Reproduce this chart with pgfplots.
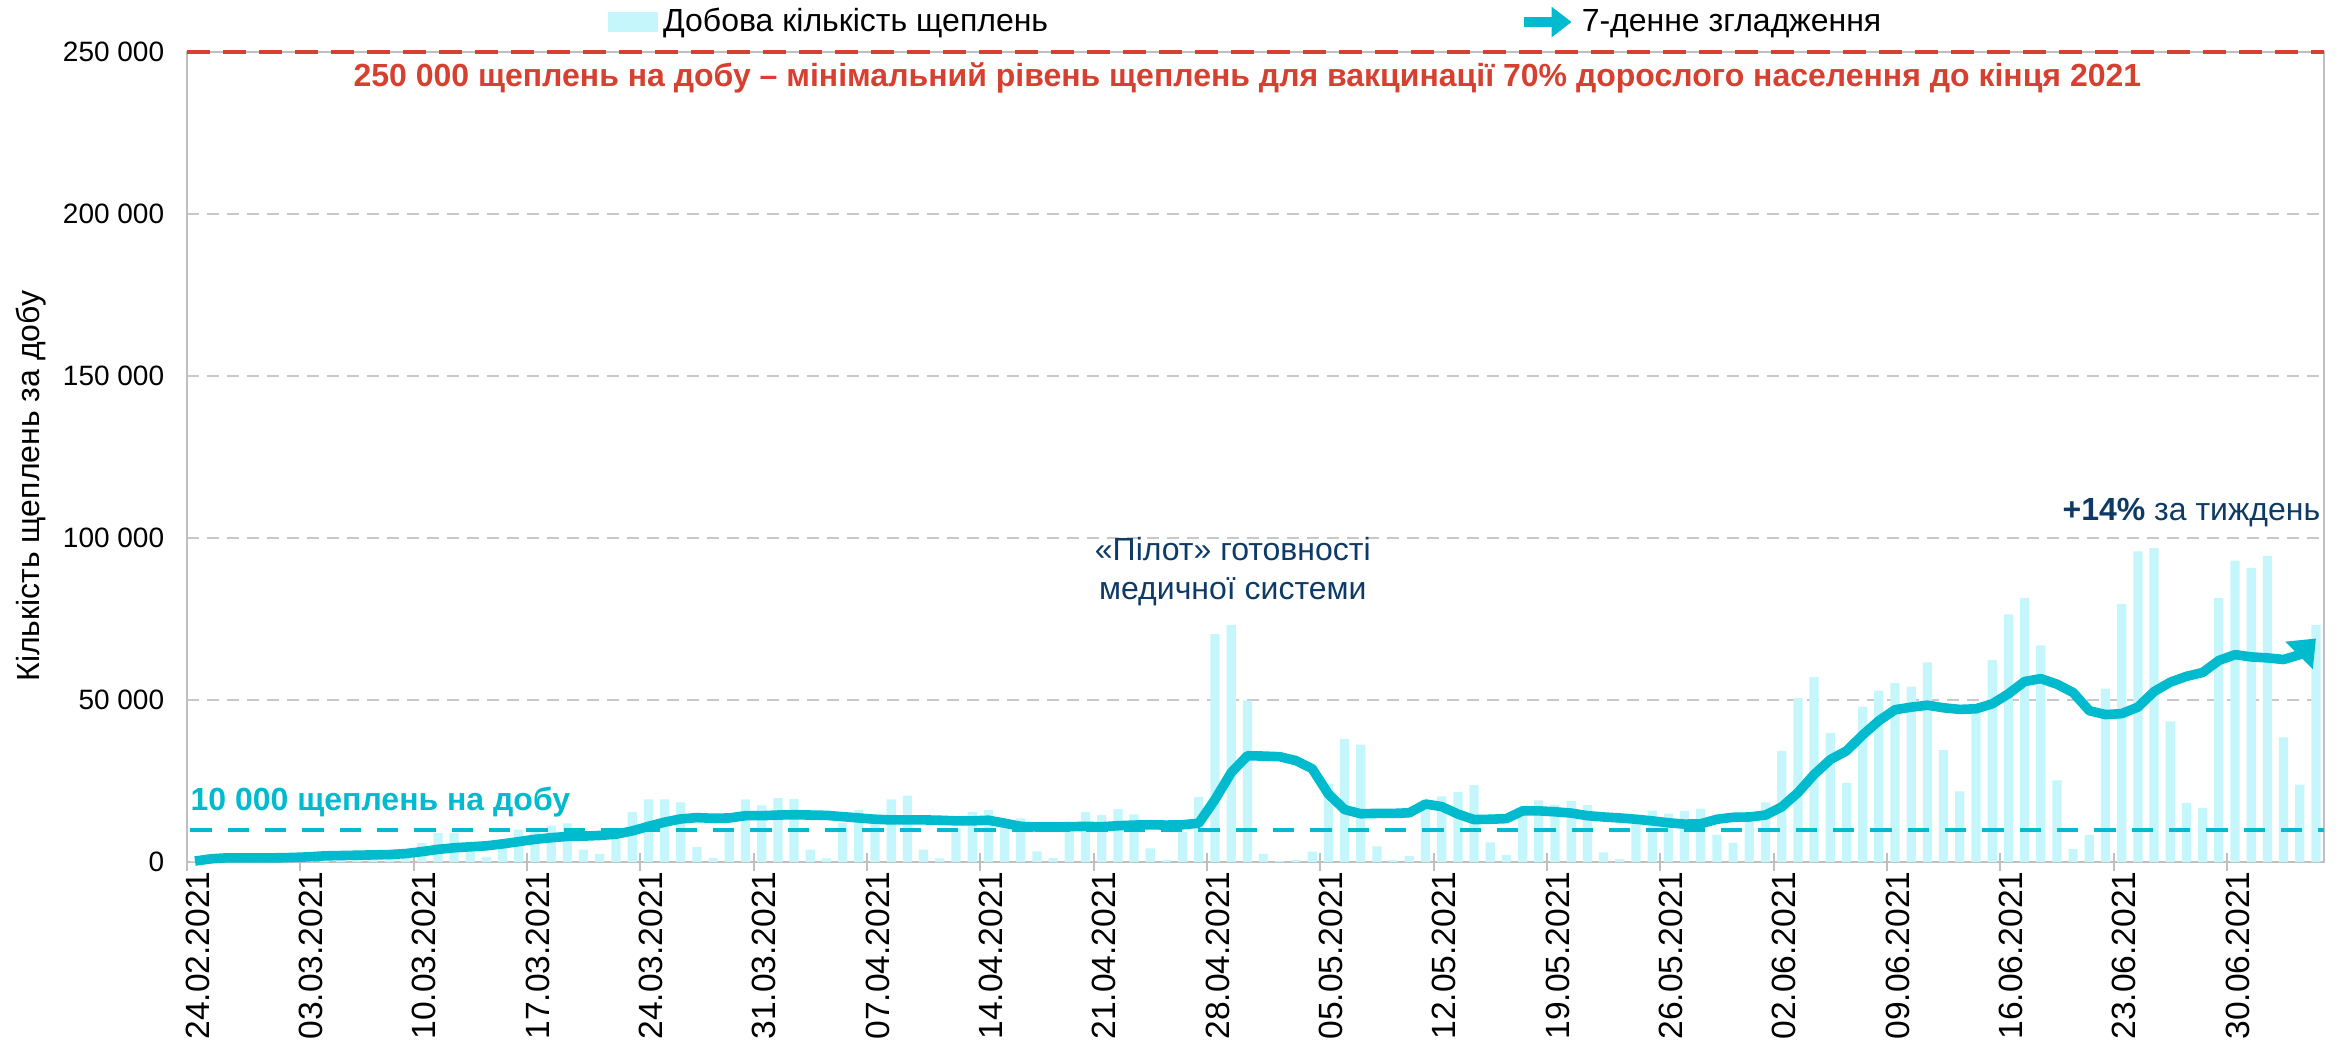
\documentclass[border=0pt]{standalone}
\usepackage{fontspec}
\setmainfont{Liberation Sans}
\usepackage{pgfplots}
\pgfplotsset{compat=1.18}
\usepackage{pgfplotstable}
\usetikzlibrary{arrows.meta}

\definecolor{barcyan}{HTML}{C4F6FB}
\definecolor{linecyan}{HTML}{00BACD}
\definecolor{redline}{HTML}{D64030}
\definecolor{navy}{HTML}{0D3B66}
\definecolor{axisgray}{HTML}{BFBFBF}
\definecolor{gridgray}{HTML}{C8C8C8}

% day index (0 = 24.02.2021), daily doses, 7-day average
\pgfplotstableread{
day bars avg
0 200 300
1 1300 1000
2 1700 1300
3 1200 1300
4 800 1300
5 1500 1300
6 1800 1400
7 2200 1600
8 2600 1900
9 2400 2000
10 1500 2100
11 1200 2200
12 2000 2300
13 4000 2600
14 5800 3200
15 8900 3900
16 9000 4400
17 3600 4700
18 1600 5000
19 7000 5600
20 10000 6300
21 10500 7000
22 11200 7500
23 11900 7900
24 3800 8000
25 2500 8200
26 9000 8600
27 15500 9600
28 19300 11000
29 19300 12300
30 18400 13300
31 4600 13700
32 1300 13500
33 10500 13600
34 19300 14300
35 17500 14300
36 19700 14500
37 19400 14600
38 3800 14500
39 1100 14400
40 12000 14000
41 16000 13600
42 12500 13200
43 19300 13000
44 20500 13000
45 3800 13000
46 1100 12900
47 10500 12700
48 15500 12700
49 16100 12900
50 13200 12000
51 13500 11000
52 3300 10800
53 1300 10800
54 9500 10900
55 15500 11000
56 14500 10900
57 16400 11200
58 14700 11400
59 4200 11500
60 700 11400
61 9300 11500
62 20000 12000
63 70300 19300
64 73200 27600
65 49800 32800
66 2500 32700
67 300 32500
68 600 31300
69 3200 28800
70 24200 21000
71 38000 16200
72 36200 14900
73 4800 15000
74 600 15000
75 1900 15200
76 17500 17900
77 20300 17100
78 21600 14800
79 23700 13100
80 6100 13200
81 2100 13400
82 15000 15800
83 19000 15800
84 17700 15500
85 18800 15100
86 17600 14300
87 3000 13900
88 900 13600
89 13000 13200
90 15900 12700
91 14900 12100
92 15800 11700
93 16500 11800
94 8400 13200
95 5900 13800
96 13000 13900
97 18400 14500
98 34200 17000
99 50600 21400
100 57100 27000
101 39800 31600
102 24400 34300
103 48000 39200
104 52900 43600
105 55200 47000
106 54100 47800
107 61600 48400
108 34500 47600
109 21800 47100
110 46500 47300
111 62400 48800
112 76400 51900
113 81500 55700
114 66900 56600
115 25200 54900
116 4000 52300
117 8400 46700
118 53500 45500
119 79700 45800
120 95900 47800
121 96900 52600
122 43400 55500
123 18200 57300
124 16700 58500
125 81500 62200
126 93000 64000
127 90800 63300
128 94500 63000
129 38500 62500
130 23900 64000
131 73100 69000
}\vacc

\begin{document}
\begin{tikzpicture}
\begin{axis}[
    width=801.4pt, height=303.75pt, scale only axis,
    xmin=-0.5, xmax=131.5,
    ymin=0, ymax=250000,
    clip=false,
    axis line style={draw=axisgray, line width=0.7pt},
    major tick length=0pt,
    tick align=center,
    xtick pos=bottom,
    scaled y ticks=false,
    ytick={0,50000,100000,150000,200000,250000},
    yticklabels={0,50 000,100 000,150 000,200 000,250 000},
    y tick label style={font=\fontsize{10.5}{12}\selectfont, xshift=-5pt},
    ymajorgrids=true,
    grid style={draw=gridgray, line width=0.5pt, dash pattern=on 4.5pt off 3pt},
    xtick={0,7,...,126},
    xticklabels={24.02.2021,03.03.2021,10.03.2021,17.03.2021,24.03.2021,31.03.2021,07.04.2021,14.04.2021,21.04.2021,28.04.2021,05.05.2021,12.05.2021,19.05.2021,26.05.2021,02.06.2021,09.06.2021,16.06.2021,23.06.2021,30.06.2021},
    x tick label style={rotate=90, anchor=east, font=\fontsize{12.6}{14}\selectfont, yshift=-1pt},
    extra x ticks={-0.5,6.5,13.5,20.5,27.5,34.5,41.5,48.5,55.5,62.5,69.5,76.5,83.5,90.5,97.5,104.5,111.5,118.5,125.5},
    extra x tick labels={},
    extra x tick style={major tick length=6.8pt, tick align=center,
        tick style={draw=axisgray, line width=0.7pt}, grid=none},
    ylabel={Кількість щеплень за добу},
    ylabel style={at={(axis description cs:-0.073,0.464)}, anchor=center,
        font=\fontsize{12}{14}\selectfont},
    legend columns=2,
    legend cell align=left,
    legend style={draw=none, fill=none, inner sep=0pt,
        at={(axis description cs:0.197,1.037)}, anchor=west,
        font=\fontsize{12}{14}\selectfont,
        /tikz/every even column/.append style={column sep=174.5pt}},
]

\addplot[ybar, bar width=0.57, fill=barcyan, draw=none,
    legend image code/.code={\fill[barcyan] (0pt,-3.6pt) rectangle (18.5pt,3.6pt);}]
    table[x=day, y=bars] {\vacc};
\addlegendentry{Добова кількість щеплень}

\addplot[draw=redline, line width=1.6pt, dash pattern=on 8.5pt off 5pt, forget plot]
    coordinates {(-0.5,250000) (131.5,250000)};
\addplot[draw=linecyan, line width=1.5pt, dash pattern=on 8pt off 6pt, forget plot]
    coordinates {(-0.3,10000) (131.5,10000)};

\addplot[draw=linecyan, line width=3.6pt, line join=round,
    -{Triangle[length=9pt, width=14pt]},
    legend image code/.code={\draw[linecyan, line width=3.6pt,
        -{Triangle[length=7.5pt, width=11pt]}] (0pt,0pt) -- (18pt,0pt);}]
    table[x=day, y=avg] {\vacc};
\addlegendentry{7-денне згладження}

\node[text=redline, font=\bfseries\fontsize{12}{14}\selectfont]
    at (axis cs:65.0,242100)
    {250 000 щеплень на добу – мінімальний рівень щеплень для вакцинації 70\% дорослого населення до кінця 2021};
\node[anchor=west, inner sep=0pt, text=linecyan, font=\bfseries\fontsize{12}{14}\selectfont]
    at (axis cs:-0.3,18400) {10 000 щеплень на добу};
\node[align=center, text=navy, font=\fontsize{12}{14.5}\selectfont]
    at (axis cs:64.1,89700) {«Пілот» готовності\\медичної системи};
\node[anchor=east, inner sep=0pt, text=navy, font=\fontsize{12}{14}\selectfont]
    at (axis cs:131.3,107800) {\textbf{+14\%} за тиждень};
\end{axis}
\pgfresetboundingbox
\useasboundingbox (-70.1pt,-67.9pt) rectangle (808.5pt,323.25pt);
\end{tikzpicture}
\end{document}
